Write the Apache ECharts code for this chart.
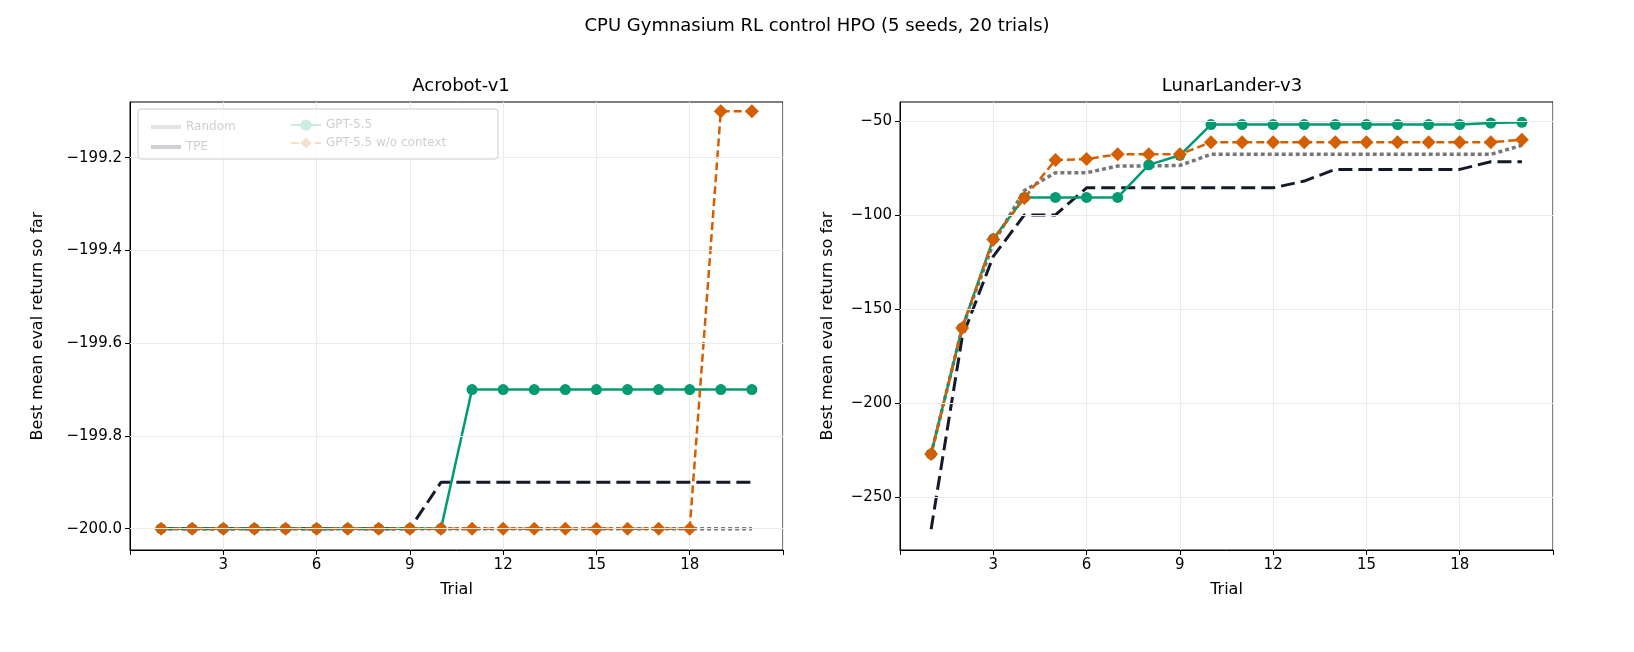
<!DOCTYPE html><html><head><meta charset="utf-8"><script src="https://cdn.jsdelivr.net/npm/echarts@6/dist/echarts.min.js"></script></head><body style="margin:0;background:#fff"><div id="c" style="width:1634px;height:652px"></div><script>
const trials=[1,2,3,4,5,6,7,8,9,10,11,12,13,14,15,16,17,18,19,20];
const acroRandom=[-200,-200,-200,-200,-200,-200,-200,-200,-200,-200,-200,-200,-200,-200,-200,-200,-200,-200,-200,-200];
const acroTPE=[-200,-200,-200,-200,-200,-200,-200,-200,-200,-199.9,-199.9,-199.9,-199.9,-199.9,-199.9,-199.9,-199.9,-199.9,-199.9,-199.9];
const acroGPT=[-200,-200,-200,-200,-200,-200,-200,-200,-200,-200,-199.7,-199.7,-199.7,-199.7,-199.7,-199.7,-199.7,-199.7,-199.7,-199.7];
const acroNoCtx=[-200,-200,-200,-200,-200,-200,-200,-200,-200,-200,-200,-200,-200,-200,-200,-200,-200,-200,-199.1,-199.1];
const lunarRandom=[-227,-160,-115,-87,-77.6,-77.6,-74,-74,-73.7,-67.8,-67.8,-67.8,-67.8,-67.8,-67.8,-67.8,-67.8,-67.8,-67.8,-63];
const lunarTPE=[-267,-165,-122,-100,-100,-85.6,-85.6,-85.6,-85.6,-85.6,-85.6,-85.6,-82,-75.8,-75.8,-75.8,-75.8,-75.8,-71.7,-71.7];
const lunarGPT=[-227,-160,-112.7,-90.7,-90.7,-90.7,-90.7,-73.4,-68.3,-52,-52,-52,-52,-52,-52,-52,-52,-52,-51.2,-50.8];
const lunarNoCtx=[-227,-160,-113,-91,-70.8,-70.3,-67.8,-67.8,-67.8,-61.4,-61.4,-61.4,-61.4,-61.4,-61.4,-61.4,-61.4,-61.4,-61.4,-60];
const yTicksLeft=[-200,-199.8,-199.6,-199.4,-199.2];
const yTicksRight=[-250,-200,-150,-100,-50];
const z=a=>trials.map((t,i)=>[t,a[i]]);
const F='DejaVu Sans';
function mk(name,data,color,width,sym,gi,dash){
 return {name,type:'line',xAxisIndex:gi,yAxisIndex:gi,data:z(data),symbol:sym,symbolSize:sym==='diamond'?14:11,showSymbol:sym!=='none',
 lineStyle:{color,width,type:dash},itemStyle:{color},z:sym==='none'?2:3};
}
const ax=(gi)=>({gridIndex:gi,type:'value',min:0,max:21,interval:3,name:'Trial',nameLocation:'middle',nameGap:32,nameTextStyle:{fontFamily:F,fontSize:16,color:'#000'},
 axisLine:{onZero:false,lineStyle:{color:'#000'}},axisTick:{lineStyle:{color:'#000'}},
 axisLabel:{fontFamily:F,fontSize:15,color:'#000',formatter:v=>(v===0||v===21)?'':v},splitLine:{show:true,lineStyle:{color:'#ebebeb'}}});
const ay=(gi,min,max,t)=>({gridIndex:gi,type:'value',min,max,name:'Best mean eval return so far',nameLocation:'middle',nameGap:gi?64:84,
 nameTextStyle:{fontFamily:F,fontSize:16,color:'#000'},axisLine:{show:true,lineStyle:{color:'#000'}},
 axisTick:{show:true,lineStyle:{color:'#000'},customValues:t},
 axisLabel:{fontFamily:F,fontSize:15,color:'#000',customValues:t,formatter:v=>(gi?String(v):v.toFixed(1)).replace('-','−')},
 splitLine:{show:false}});
const li=(n,icon)=>({name:n,icon});
const opt={animation:false,
 title:[{text:'CPU Gymnasium RL control HPO (5 seeds, 20 trials)',left:'center',top:12,textStyle:{fontFamily:F,fontSize:18,fontWeight:'normal',color:'#000'}},
 {text:'Acrobot-v1',left:456,textAlign:'center',top:72,textStyle:{fontFamily:F,fontSize:18,fontWeight:'normal',color:'#000'}},
 {text:'LunarLander-v3',left:1227,textAlign:'center',top:72,textStyle:{fontFamily:F,fontSize:18,fontWeight:'normal',color:'#000'}}],
 legend:[{left:146,top:116,orient:'vertical',itemGap:8,data:[li('Random','rect'),li('TPE','rect')],textStyle:{fontFamily:F,fontSize:12,color:'#000'},itemWidth:30,itemHeight:4},
 {left:285,top:114,orient:'vertical',itemGap:6,data:['GPT-5.5','GPT-5.5 w/o context'],textStyle:{fontFamily:F,fontSize:12,color:'#000'},itemWidth:30}],
 graphic:[{type:'rect',shape:{x:138,y:109,width:360,height:50,r:3},style:{fill:'rgba(255,255,255,0.8)',stroke:'#ccc'},z:50}],
 grid:[{left:130,top:102,width:653,height:448,show:true,borderColor:'#000',borderWidth:1},{left:900,top:102,width:653,height:448,show:true,borderColor:'#000',borderWidth:1}],
 xAxis:[ax(0),ax(1)],
 yAxis:[ay(0,-200.046,-199.08,yTicksLeft),ay(1,-278,-40,yTicksRight)],
 series:[
 mk('Random',acroRandom,'#777777',3.5,'none',0,[4,3]),
 mk('TPE',acroTPE,'#141a2a',3,'none',0,[14,6]),
 mk('GPT-5.5',acroGPT,'#009a73',2.5,'circle',0,'solid'),
 mk('GPT-5.5 w/o context',acroNoCtx,'#d55e00',2.5,'diamond',0,[8,4]),
 mk('Random',lunarRandom,'#777777',3.5,'none',1,[4,3]),
 mk('TPE',lunarTPE,'#141a2a',3,'none',1,[14,6]),
 mk('GPT-5.5',lunarGPT,'#009a73',2.5,'circle',1,'solid'),
 mk('GPT-5.5 w/o context',lunarNoCtx,'#d55e00',2.5,'diamond',1,[8,4])]
};
[[0,yTicksLeft],[1,yTicksRight]].forEach(([gi,t])=>opt.series.push({type:'line',xAxisIndex:gi,yAxisIndex:gi,data:[],silent:true,
 markLine:{symbol:'none',silent:true,label:{show:false},lineStyle:{color:'#ebebeb',type:'solid',width:1},data:t.map(v=>({yAxis:v}))},z:0}));
const ch=echarts.init(document.getElementById('c'));
ch.setOption(opt);
</script></body></html>
